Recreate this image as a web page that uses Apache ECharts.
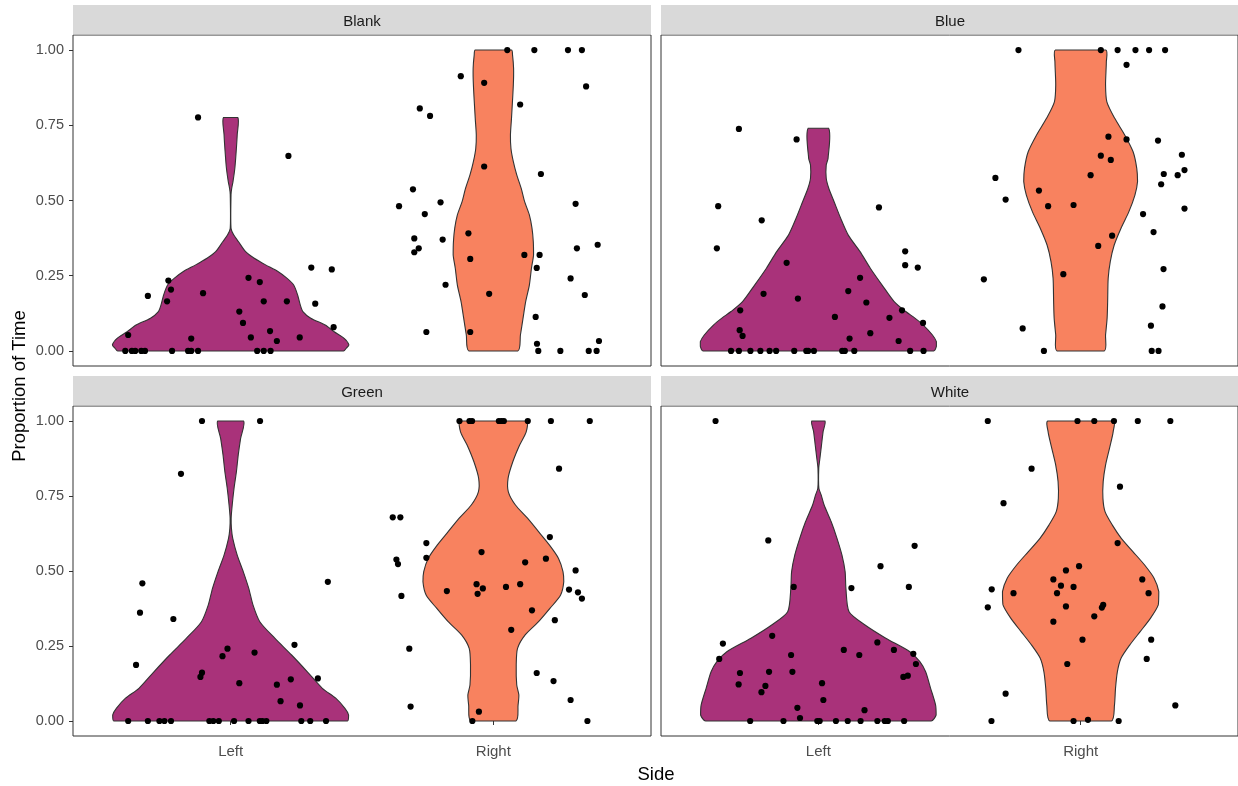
<!DOCTYPE html>
<html>
<head>
<meta charset="utf-8">
<title>Proportion of Time by Side</title>
<script src="https://cdn.jsdelivr.net/npm/echarts@6/dist/echarts.min.js"></script>
<style>
  html, body { margin: 0; padding: 0; background: #ffffff; }
  #chart { width: 1238px; height: 786px; }
</style>
</head>
<body>
<div id="chart"></div>
<script>
// Facets, x categories and y ticks
const panelNames = ['Blank', 'Blue', 'Green', 'White'];
const sideNames = ['Left', 'Right'];
const yTickValues = [0, 0.25, 0.5, 0.75, 1];

// Violin outlines: [proportion, half-width in category units], top to bottom
const blankLeftViolin = [[0.776,0.027],[0.718,0.025],[0.662,0.021],[0.607,0.016],[0.563,0.009],[0.540,0.004],[0.520,0.0015],[0.408,0.0015],[0.385,0.012],[0.363,0.030],[0.330,0.057],[0.308,0.090],[0.286,0.133],[0.264,0.180],[0.241,0.215],[0.219,0.240],[0.186,0.255],[0.153,0.265],[0.131,0.275],[0.109,0.305],[0.086,0.360],[0.064,0.394],[0.042,0.432],[0.020,0.450],[0.009,0.440],[0,0.430]];
const blankRightViolin = [[1,0.069],[0.983,0.073],[0.939,0.077],[0.884,0.076],[0.773,0.069],[0.718,0.065],[0.673,0.067],[0.629,0.076],[0.585,0.089],[0.540,0.106],[0.496,0.119],[0.452,0.137],[0.408,0.147],[0.363,0.152],[0.319,0.153],[0.275,0.145],[0.219,0.137],[0.164,0.123],[0.109,0.113],[0.053,0.103],[0,0.093]];
const blueLeftViolin = [[0.740,0.039],[0.640,0.037],[0.618,0.030],[0.574,0.030],[0.540,0.040],[0.496,0.060],[0.441,0.085],[0.385,0.114],[0.330,0.159],[0.275,0.198],[0.219,0.243],[0.164,0.289],[0.131,0.333],[0.109,0.368],[0.086,0.400],[0.053,0.435],[0.031,0.450],[0.015,0.450],[0,0.440]];
const blueRightViolin = [[1,0.096],[0.961,0.098],[0.884,0.095],[0.828,0.100],[0.773,0.130],[0.718,0.168],[0.662,0.200],[0.607,0.214],[0.563,0.217],[0.518,0.207],[0.463,0.184],[0.408,0.154],[0.352,0.128],[0.297,0.113],[0.241,0.105],[0.164,0.103],[0.109,0.101],[0.053,0.095],[0,0.090]];
const greenLeftViolin = [[1,0.049],[0.942,0.038],[0.887,0.029],[0.831,0.022],[0.776,0.013],[0.720,0.006],[0.676,0.002],[0.642,0.003],[0.609,0.008],[0.553,0.025],[0.498,0.048],[0.442,0.069],[0.387,0.085],[0.331,0.111],[0.276,0.168],[0.220,0.232],[0.164,0.292],[0.109,0.349],[0.076,0.400],[0.042,0.435],[0.020,0.449],[0,0.445]];
const greenRightViolin = [[1,0.126],[0.964,0.125],[0.920,0.100],[0.864,0.074],[0.809,0.056],[0.764,0.057],[0.720,0.084],[0.676,0.130],[0.631,0.172],[0.587,0.213],[0.542,0.248],[0.498,0.265],[0.464,0.268],[0.420,0.256],[0.376,0.216],[0.331,0.172],[0.287,0.121],[0.242,0.092],[0.187,0.087],[0.120,0.089],[0.087,0.097],[0.053,0.094],[0,0.086]];
const whiteLeftViolin = [[1,0.025],[0.964,0.018],[0.920,0.012],[0.876,0.006],[0.842,0.0015],[0.776,0.002],[0.753,0.011],[0.720,0.022],[0.664,0.049],[0.609,0.071],[0.553,0.090],[0.498,0.102],[0.442,0.105],[0.364,0.117],[0.320,0.178],[0.276,0.257],[0.231,0.349],[0.198,0.387],[0.164,0.409],[0.109,0.428],[0.053,0.447],[0.020,0.449],[0,0.430]];
const whiteRightViolin = [[1,0.125],[0.964,0.124],[0.909,0.110],[0.853,0.095],[0.798,0.086],[0.742,0.085],[0.698,0.093],[0.653,0.121],[0.609,0.155],[0.564,0.200],[0.520,0.244],[0.476,0.280],[0.431,0.298],[0.387,0.296],[0.342,0.266],[0.298,0.227],[0.253,0.187],[0.209,0.154],[0.164,0.140],[0.109,0.133],[0.053,0.129],[0,0.117]];

// Jittered observations: [x position on the Side axis, proportion]
const blankLeftPoints = [[0.876,0.776],[1.220,0.648],[1.307,0.277],[1.385,0.271],[0.763,0.234],[0.773,0.204],[0.685,0.183],[0.758,0.165],[0.895,0.192],[1.068,0.243],[1.111,0.229],[1.126,0.165],[1.214,0.165],[1.322,0.157],[1.033,0.131],[1.047,0.093],[1.392,0.079],[0.610,0.053],[0.850,0.041],[1.077,0.045],[1.150,0.066],[1.176,0.033],[1.263,0.045],[0.599,0],[0.624,0],[0.637,0],[0.660,0],[0.674,0],[0.777,0],[0.838,0],[0.850,0],[0.876,0],[1.101,0],[1.126,0],[1.152,0]];
const blankRightPoints = [[2.053,1],[2.156,1],[2.284,1],[2.337,1],[1.876,0.913],[1.965,0.891],[2.353,0.879],[2.102,0.819],[1.720,0.806],[1.759,0.781],[1.965,0.613],[2.181,0.588],[1.694,0.537],[1.641,0.481],[1.799,0.494],[1.739,0.455],[2.313,0.489],[1.905,0.391],[1.699,0.374],[1.807,0.370],[1.716,0.341],[1.699,0.328],[2.318,0.341],[2.397,0.353],[1.912,0.306],[2.118,0.319],[2.176,0.319],[2.165,0.276],[2.294,0.241],[1.818,0.220],[1.984,0.190],[2.348,0.186],[2.161,0.113],[1.745,0.063],[1.912,0.063],[2.166,0.024],[2.402,0.033],[2.171,0],[2.255,0],[2.363,0],[2.393,0]];
const blueLeftPoints = [[0.697,0.738],[0.917,0.703],[0.618,0.481],[1.231,0.477],[0.784,0.434],[0.613,0.341],[1.331,0.331],[1.331,0.285],[1.379,0.277],[0.879,0.293],[1.159,0.243],[0.791,0.190],[1.114,0.199],[0.922,0.174],[1.183,0.161],[0.702,0.135],[1.319,0.135],[1.063,0.113],[1.271,0.110],[1.399,0.093],[0.700,0.069],[0.711,0.050],[1.198,0.059],[1.119,0.041],[1.306,0.033],[0.667,0],[0.697,0],[0.741,0],[0.779,0],[0.814,0],[0.839,0],[0.908,0],[0.954,0],[0.961,0],[0.983,0],[1.091,0],[1.101,0],[1.137,0],[1.350,0],[1.401,0]];
const blueRightPoints = [[1.763,1],[2.077,1],[2.141,1],[2.209,1],[2.261,1],[2.322,1],[2.175,0.951],[2.106,0.712],[2.175,0.703],[2.295,0.699],[2.386,0.652],[2.077,0.649],[2.115,0.635],[2.396,0.601],[2.317,0.588],[2.370,0.584],[2.038,0.584],[1.675,0.575],[2.307,0.554],[1.841,0.533],[1.714,0.503],[1.876,0.481],[1.973,0.485],[2.396,0.473],[2.238,0.455],[2.278,0.395],[2.120,0.383],[2.067,0.349],[2.316,0.272],[1.934,0.255],[1.631,0.238],[2.312,0.148],[1.779,0.075],[2.268,0.084],[1.860,0],[2.271,0],[2.297,0]];
const greenLeftPoints = [[0.891,1],[1.112,1],[0.811,0.824],[0.664,0.459],[1.370,0.464],[0.655,0.361],[0.782,0.340],[1.243,0.254],[0.988,0.241],[1.091,0.228],[0.969,0.216],[0.640,0.187],[0.891,0.161],[0.885,0.147],[1.332,0.142],[1.229,0.139],[1.033,0.126],[1.176,0.121],[1.190,0.066],[1.264,0.052],[0.610,0],[0.685,0],[0.729,0],[0.748,0],[0.773,0],[0.919,0],[0.934,0],[0.955,0],[1.013,0],[1.068,0],[1.111,0],[1.121,0],[1.136,0],[1.269,0],[1.303,0],[1.363,0]];
const greenRightPoints = [[1.871,1],[1.909,1],[1.919,1],[2.021,1],[2.031,1],[2.040,1],[2.131,1],[2.219,1],[2.367,1],[2.250,0.841],[1.617,0.679],[1.646,0.679],[2.215,0.613],[1.745,0.593],[1.955,0.563],[1.745,0.544],[1.631,0.538],[1.637,0.523],[2.200,0.541],[2.121,0.529],[2.313,0.502],[1.936,0.456],[2.102,0.456],[1.960,0.442],[2.048,0.447],[1.823,0.433],[1.940,0.424],[2.288,0.438],[2.322,0.429],[2.337,0.408],[1.650,0.417],[2.147,0.369],[2.234,0.336],[2.068,0.304],[1.680,0.241],[2.165,0.160],[2.229,0.133],[2.294,0.070],[1.685,0.048],[1.945,0.031],[1.920,0],[2.358,0]];
const whiteLeftPoints = [[0.608,1],[0.809,0.602],[1.367,0.584],[1.237,0.516],[0.906,0.447],[1.126,0.443],[1.345,0.447],[0.824,0.284],[0.636,0.258],[1.225,0.262],[1.097,0.237],[1.288,0.237],[0.896,0.220],[1.156,0.220],[1.362,0.224],[0.622,0.207],[1.372,0.190],[0.701,0.160],[0.812,0.164],[0.901,0.164],[1.324,0.147],[1.341,0.151],[0.696,0.122],[0.798,0.117],[1.014,0.126],[0.783,0.096],[1.019,0.070],[0.920,0.044],[1.176,0.036],[0.930,0.010],[0.740,0],[0.867,0],[0.996,0],[1.005,0],[1.067,0],[1.112,0],[1.161,0],[1.225,0],[1.253,0],[1.265,0],[1.327,0]];
const whiteRightPoints = [[1.646,1],[1.988,1],[2.052,1],[2.127,1],[2.218,1],[2.342,1],[1.813,0.841],[2.150,0.781],[1.706,0.726],[2.141,0.593],[1.994,0.516],[1.944,0.502],[1.896,0.472],[2.235,0.472],[1.925,0.451],[1.973,0.447],[1.661,0.439],[1.744,0.426],[1.910,0.426],[2.259,0.426],[1.646,0.379],[1.944,0.382],[2.086,0.387],[2.081,0.378],[2.052,0.349],[1.896,0.331],[2.007,0.271],[2.269,0.271],[2.252,0.207],[1.949,0.190],[1.714,0.091],[2.361,0.052],[2.028,0.004],[1.660,0],[1.973,0],[2.145,0]];

// Panel wiring (facet order: Blank, Blue / Green, White)
const panelViolins = [
  [blankLeftViolin, blankRightViolin],
  [blueLeftViolin, blueRightViolin],
  [greenLeftViolin, greenRightViolin],
  [whiteLeftViolin, whiteRightViolin]
];
const panelPoints = [
  blankLeftPoints.concat(blankRightPoints),
  blueLeftPoints.concat(blueRightPoints),
  greenLeftPoints.concat(greenRightPoints),
  whiteLeftPoints.concat(whiteRightPoints)
];

// Layout and styling
const FONT = '"Liberation Sans", Arial, Helvetica, sans-serif';
const sideFill = ['#A9327A', '#F8825F'];
const gridBoxes = [
  { left: 73, top: 35, width: 578, height: 331 },
  { left: 661, top: 35, width: 578, height: 331 },
  { left: 73, top: 406, width: 578, height: 330 },
  { left: 661, top: 406, width: 578, height: 330 }
];
const stripH = 29.5;

const chart = echarts.init(document.getElementById('chart'), null, { renderer: 'canvas' });

const grids = gridBoxes.map(b => ({
  left: b.left, top: b.top, width: b.width, height: b.height,
  show: true, borderColor: '#333333', borderWidth: 1, backgroundColor: '#ffffff',
  containLabel: false
}));

const xAxes = gridBoxes.map((b, i) => {
  const bottomRow = i >= 2;
  return {
    type: 'value', gridIndex: i, min: 0.4, max: 2.6,
    axisLine: { show: false },
    splitLine: { show: false },
    axisTick: { show: bottomRow, length: 4, customValues: [1, 2], lineStyle: { color: '#333333', width: 1 } },
    axisLabel: {
      show: bottomRow, customValues: [1, 2], margin: 8,
      formatter: v => sideNames[Math.round(v) - 1],
      color: '#4D4D4D', fontSize: 15, fontFamily: FONT
    }
  };
});

const yAxes = gridBoxes.map((b, i) => {
  const leftCol = i % 2 === 0;
  return {
    type: 'value', gridIndex: i, min: -0.05, max: 1.05,
    axisLine: { show: false },
    splitLine: { show: false },
    axisTick: { show: leftCol, length: 4, customValues: yTickValues, lineStyle: { color: '#333333', width: 1 } },
    axisLabel: {
      show: leftCol, customValues: yTickValues, margin: 9,
      formatter: v => v.toFixed(2),
      color: '#4D4D4D', fontSize: 14.5, fontFamily: FONT
    }
  };
});

const series = [];
panelViolins.forEach((pair, i) => {
  series.push({
    type: 'custom',
    name: panelNames[i] + ' violins',
    xAxisIndex: i, yAxisIndex: i,
    silent: true,
    data: [[1, 0], [2, 0]],
    encode: { x: 0, y: 1 },
    renderItem: (params, api) => {
      const profile = pair[params.dataIndex];
      const cx = api.value(0);
      const leftEdge = profile.map(([y, hw]) => api.coord([cx - hw, y]));
      const rightEdge = profile.slice().reverse().map(([y, hw]) => api.coord([cx + hw, y]));
      const pts = leftEdge.concat(rightEdge);
      // keep the smoothed outline inside the outline's own bounding box
      const xs = pts.map(p => p[0]);
      const ys = pts.map(p => p[1]);
      const box = [[Math.min(...xs), Math.min(...ys)], [Math.max(...xs), Math.max(...ys)]];
      return {
        type: 'polygon',
        shape: { points: pts, smooth: 0.25, smoothConstraint: box },
        style: { fill: sideFill[params.dataIndex], stroke: '#333333', lineWidth: 1.1 }
      };
    },
    z: 2
  });
  series.push({
    type: 'scatter',
    name: panelNames[i] + ' observations',
    xAxisIndex: i, yAxisIndex: i,
    silent: true,
    data: panelPoints[i],
    symbol: 'circle',
    symbolSize: 6.2,
    itemStyle: { color: '#000000', opacity: 1 },
    z: 3
  });
});

// Facet strips and axis titles
const graphics = [];
gridBoxes.forEach((b, i) => {
  graphics.push({
    type: 'rect', silent: true,
    shape: { x: b.left, y: b.top - stripH - 0.5, width: b.width, height: stripH },
    style: { fill: '#D9D9D9' }
  });
  graphics.push({
    type: 'text', silent: true,
    x: b.left + b.width / 2, y: b.top - stripH / 2 + 1.5,
    style: {
      text: panelNames[i], fill: '#1A1A1A', font: '15px ' + FONT,
      textAlign: 'center', textVerticalAlign: 'middle'
    }
  });
});
graphics.push({
  type: 'text', silent: true,
  x: 20, y: 386, rotation: Math.PI / 2,
  style: {
    text: 'Proportion of Time', fill: '#000000', font: '18.5px ' + FONT,
    textAlign: 'center', textVerticalAlign: 'middle'
  }
});
graphics.push({
  type: 'text', silent: true,
  x: 656, y: 775,
  style: {
    text: 'Side', fill: '#000000', font: '18.5px ' + FONT,
    textAlign: 'center', textVerticalAlign: 'middle'
  }
});

chart.setOption({
  animation: false,
  backgroundColor: '#ffffff',
  textStyle: { fontFamily: FONT },
  grid: grids,
  xAxis: xAxes,
  yAxis: yAxes,
  series: series,
  graphic: { elements: graphics }
});
</script>
</body>
</html>
